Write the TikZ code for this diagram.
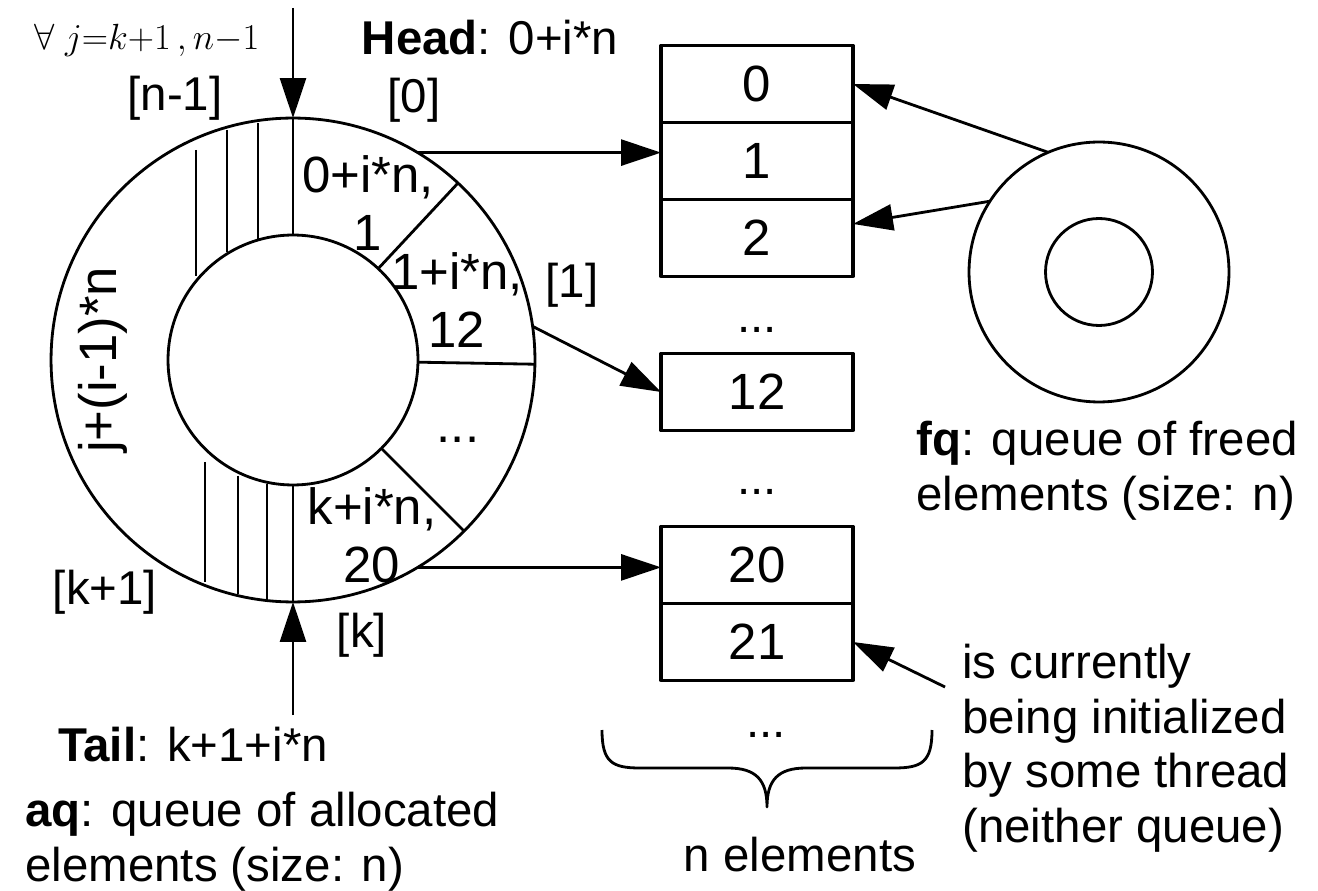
\documentclass[tikz,border=0pt]{standalone}
\usepackage{fontspec}
\setmainfont{Liberation Sans}
\usetikzlibrary{arrows.meta,positioning}

\begin{document}
\begin{tikzpicture}[x=0.02cm, y=-0.02cm, >={Triangle[length=0.8cm,width=0.52cm]}, line join=round,
    ringline/.style={line width=1.6pt},
    hatchline/.style={line width=0.6pt},
    ringnode/.style={circle, draw, ringline, inner sep=0pt, outer sep=0pt},
    elem/.style={draw, line width=1.8pt, minimum width=3.84cm, minimum height=1.54cm,
        inner sep=0pt, outer sep=0pt, font=\fontsize{29}{34}\selectfont},
    lbl/.style={font=\fontsize{27}{31}\selectfont, inner sep=0pt},
    slot/.style={font=\fontsize{29}{33}\selectfont, inner sep=0pt, align=center},
    idx/.style={font=\fontsize{27}{31}\selectfont, inner sep=0pt}]
    \useasboundingbox (0,0) rectangle (1318,891);

    % aq: the ring
    \node[ringnode, minimum size=9.68cm] (aq) at (293,360) {};
    \node[ringnode, minimum size=5cm] (aqin) at (293,360) {};
    \draw[ringline] (aqin.47) -- (aq.47);
    \draw[ringline] (aqin.-1) -- (aq.-1);
    \draw[ringline] (aqin.-45) -- (aq.-45);
    \draw[ringline] (aq.north) -- (aqin.north);
    \draw[ringline] (aq.south) -- (aqin.south);

    % hatched slots
    \foreach \hx/\ya/\yb in {196/150/276, 227/130/252, 258/123/239,
                             205/462/582, 238/476/594, 267/484/599}
        \draw[hatchline] (\hx,\ya) -- (\hx,\yb);

    % texts in the ring
    \node[slot] (s0) at (368,203) {0+i*n,\\1};
    \node[slot] (s1) at (457,300) {1+i*n,\\12};
    \node[slot] (sdots) at (458,440) {...};
    \node[slot] (sk) at (372,535) {k+i*n,\\20};
    \node[font=\fontsize{30}{34}\selectfont, inner sep=0pt, rotate=90] (jlab) at (103,360) {j+(i-1)*n};

    % slot indices
    \node[idx] (in1) at (175,98) {[n-1]};
    \node[idx] (i0) at (414,100) {[0]};
    \node[idx] (i1) at (572,285) {[1]};
    \node[idx] (ik1) at (105,592) {[k+1]};
    \node[idx] (ik) at (362,635) {[k]};

    % head and tail
    \coordinate (headtop) at (293,8);
    \coordinate (tailbot) at (293,715);
    \draw[->, ringline] (headtop) -- (aq.north);
    \draw[->, ringline] (tailbot) -- (aq.south);
    \node[font=\fontsize{22.5}{26}\selectfont, inner sep=0pt] (forall) at (147,40) {$\forall\; j{=}k{+}1\,,n{-}1$};
    \node[lbl] (head) at (490,38) {\textbf{Head}: 0+i*n};
    \node[lbl] (tail) at (193,745) {\textbf{Tail}: k+1+i*n};
    \node[lbl, align=left, anchor=north west] (aqtext) at (25,792) {\textbf{aq}: queue of allocated\\elements (size: n)};

    % elements
    \node[elem] (b0) at (757,84) {0};
    \node[elem, below=0pt of b0] (b1) {1};
    \node[elem, below=0pt of b1] (b2) {2};
    \node[lbl] (d1) at (757,330) {...};
    \node[elem] (b12) at (757,392) {12};
    \node[lbl] (d2) at (757,492) {...};
    \node[elem] (b20) at (757,565) {20};
    \node[elem, below=0pt of b20] (b21) {21};
    \node[lbl] (d3) at (766,735) {...};

    \draw[->, ringline] (aq.59) -- (aq.59 -| b1.west);
    \draw[->, ringline] (aq.8) -- (b12.west);
    \draw[->, ringline] (aq.-59) -- (aq.-59 -| b20.west);

    % brace
    \draw[ringline] (602,730) .. controls (602,762) and (612,768) .. (640,768) -- (728,768)
        .. controls (756,768) and (767,780) .. (767,807)
        .. controls (767,780) and (778,768) .. (806,768) -- (894,768)
        .. controls (922,768) and (932,762) .. (932,730);
    \node[lbl] (nel) at (800,855) {n elements};

    % fq: the free ring
    \node[ringnode, minimum size=5.2cm] (fq) at (1099,272) {};
    \node[ringnode, minimum size=2.14cm] (fqin) at (1099,272) {};
    \draw[->, ringline] (fq.113) -- (b0.east);
    \draw[->, ringline] (fq.147) -- ([yshift=0.28cm]b2.east);
    \node[lbl, align=left, anchor=north west] (fqtext) at (916,421) {\textbf{fq}: queue of freed\\elements (size: n)};

    % element being initialized
    \node[lbl, align=left, anchor=north west] (curr) at (962,644) {is currently\\being initialized\\by some thread\\(neither queue)};
    \coordinate (currtail) at (945,687);
    \draw[->, ringline] (currtail) -- (b21.east);
\end{tikzpicture}
\end{document}
